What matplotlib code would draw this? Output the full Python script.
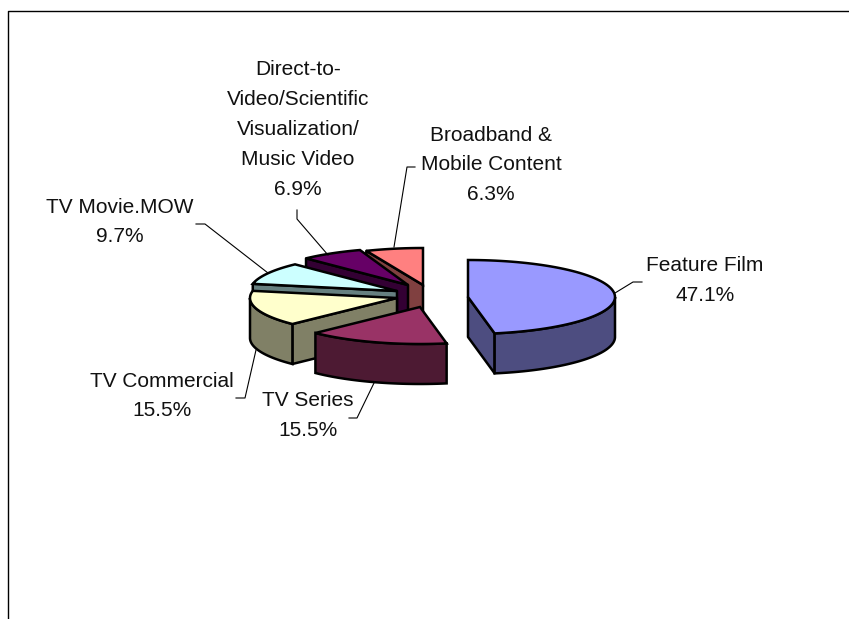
import numpy as np
import matplotlib
matplotlib.use("Agg")
import matplotlib.pyplot as plt
from matplotlib.patches import Polygon

plt.rcParams['font.family'] = ['Liberation Sans', 'DejaVu Sans']

# data, clockwise from 12 o'clock
categories = ['Feature Film', 'TV Series', 'TV Commercial', 'TV Movie.MOW',
              'Direct-to-\nVideo/Scientific\nVisualization/\nMusic Video',
              'Broadband &\nMobile Content']
shares = [47.1, 15.5, 15.5, 9.7, 6.9, 6.3]

# colours
top_colors = ['#9999FF', '#993366', '#FFFFCC', '#CCFFFF', '#660066', '#FF8080']
side_colors = ['#4D4D80', '#4D1A33', '#808066', '#668080', '#330033', '#804040']

# pie geometry in pixels
rx, ry, depth = 147, 37, 40
pie_cx, pie_cy = 427, 296
explode_x = [41, -7, -30, -30, -19, -4]
explode_y = [1, 11, 2, -5, -11, -11]
draw_order = [5, 4, 3, 2, 0, 1]

# label and leader placement in pixels
label_xy = [(705, 280.5), (308, 415.5), (162, 396), (120, 222), (298, 129.5), (491, 165)]
leaders = [
    [(615, 293), (633, 282), (642, 282)],
    [(374, 383), (357, 418), (349, 418)],
    [(256, 350), (245, 398), (236, 398)],
    [(268, 273), (205, 224), (196, 224)],
    [(328, 255), (297, 219), (297, 210)],
    [(394, 247), (407, 167), (415, 167)],
]

fig = plt.figure(figsize=(8.49, 6.19), dpi=100)
ax = fig.add_axes([0, 0, 1, 1])
ax.set_xlim(0, 849)
ax.set_ylim(619, 0)
ax.axis('off')

# chart frame
ax.plot([8.5, 8.5, 849], [619, 10.5, 10.5], color='black', lw=1.0)


def rim(cx, cy, a, b):
    t = np.radians(np.linspace(a, b, 80))
    return cx + rx * np.sin(t), cy - ry * np.cos(t)


def wall(x0, y0, x1, y1, color):
    pts = [(x0, y0), (x1, y1), (x1, y1 + depth), (x0, y0 + depth)]
    ax.add_patch(Polygon(pts, closed=True, fc=color, ec='black', lw=1.8, joinstyle='round'))


# the labelled shares add up to a bit over 100, so the last slice is stopped at 12 o'clock
frac = np.array(shares) * 3.6
ends = np.minimum(np.cumsum(frac), 360)
starts = ends - frac

for i in draw_order:
    a, b = starts[i], ends[i]
    cx = pie_cx + explode_x[i]
    cy = pie_cy + explode_y[i]
    xs, ys = rim(cx, cy, a, b)
    # cut faces that turn towards the viewer
    if 180 < a < 360:
        wall(cx, cy, xs[0], ys[0], side_colors[i])
    if 0 < b < 180:
        wall(cx, cy, xs[-1], ys[-1], side_colors[i])
    # outer wall, front half only
    a2, b2 = max(a, 90), min(b, 270)
    if b2 > a2:
        wx, wy = rim(cx, cy, a2, b2)
        pts = np.vstack([np.c_[wx, wy], np.c_[wx, wy + depth][::-1]])
        ax.add_patch(Polygon(pts, closed=True, fc=side_colors[i], ec='black', lw=1.8))
    top = np.vstack([[cx, cy], np.c_[xs, ys]])
    ax.add_patch(Polygon(top, closed=True, fc=top_colors[i], ec='black', lw=1.8))

for cat, val, (x, y), line in zip(categories, shares, label_xy, leaders):
    ax.text(x, y, f'{cat}\n{val}%', ha='center', va='center', fontsize=15,
            linespacing=1.72, color='#111111')
    lx, ly = zip(*line)
    ax.plot(lx, ly, color='black', lw=0.8)

fig.savefig('out.png', dpi=100)
